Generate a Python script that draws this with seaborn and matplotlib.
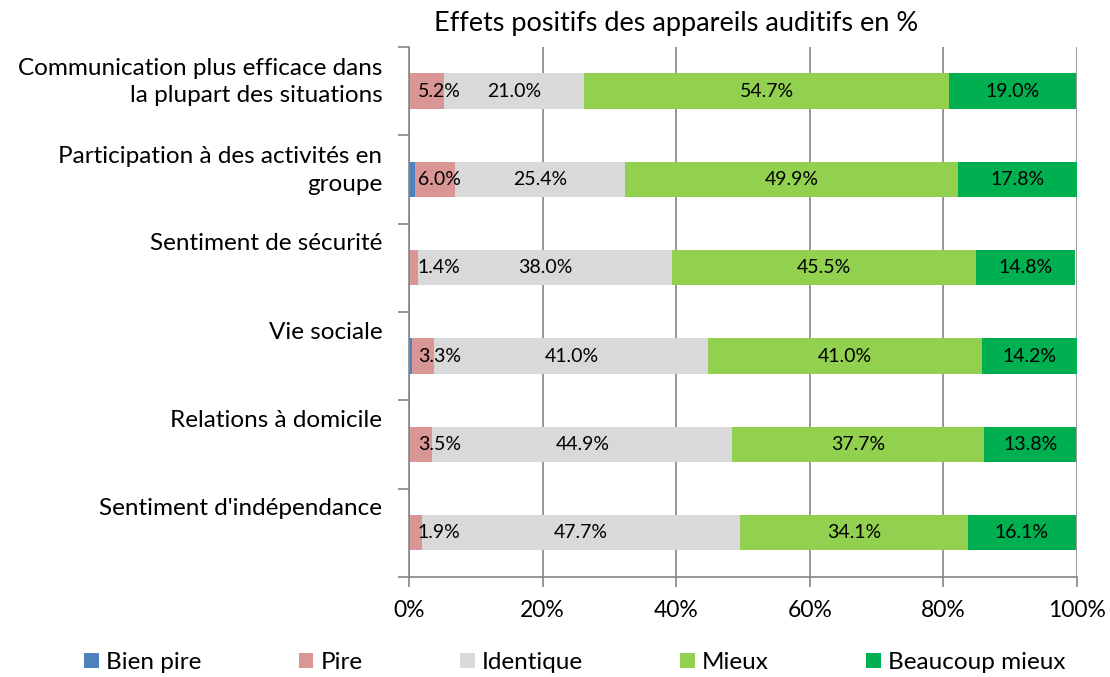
import matplotlib.pyplot as plt
import seaborn as sns
import pandas as pd
import numpy as np

categories = [
    "Communication plus efficace dans\nla plupart des situations",
    "Participation à des activités en\ngroupe",
    "Sentiment de sécurité",
    "Vie sociale",
    "Relations à domicile",
    "Sentiment d'indépendance",
]
series = ["Bien pire", "Pire", "Identique", "Mieux", "Beaucoup mieux"]
bien_pire = [0.0, 0.9, 0.0, 0.5, 0.0, 0.0]
pire = [5.2, 6.0, 1.4, 3.3, 3.5, 1.9]
identique = [21.0, 25.4, 38.0, 41.0, 44.9, 47.7]
mieux = [54.7, 49.9, 45.5, 41.0, 37.7, 34.1]
beaucoup_mieux = [19.0, 17.8, 14.8, 14.2, 13.8, 16.1]
colors = ["#4F81BD", "#D99694", "#D9D9D9", "#92D050", "#00B050"]
xticks = [0, 20, 40, 60, 80, 100]

sns.set_style("white")
plt.rcParams["font.family"] = ["Lato", "DejaVu Sans"]
plt.rcParams["text.color"] = "black"
plt.rcParams["xtick.color"] = "black"

df = pd.DataFrame({"cat": categories, "Bien pire": bien_pire, "Pire": pire,
                   "Identique": identique, "Mieux": mieux,
                   "Beaucoup mieux": beaucoup_mieux})
cum = df[series].cumsum(axis=1)
left = cum - df[series]

fig = plt.figure(figsize=(11.1, 6.77), dpi=100)
ax = fig.add_axes([0.3685, 0.148, 0.6018, 0.7826])

# stacked bars: draw cumulative totals from the back
for s, c in reversed(list(zip(series, colors))):
    sns.barplot(x=cum[s], y=df["cat"], color=c, orient="h", width=0.4,
                saturation=1, ax=ax, label=s, linewidth=0)

gc = "#868686"
ax.set_xlim(0, 100)
ax.set_ylim(5.5, -0.5)
ax.set_xticks(xticks)
ax.set_xticklabels([f"{t}%" for t in xticks], fontsize=16.5)
ax.xaxis.grid(True, color=gc, linewidth=1.2)
ax.set_axisbelow(True)
ax.set_xlabel("")
ax.set_ylabel("")
for sp in ["top", "right"]:
    ax.spines[sp].set_visible(False)
for sp in ["left", "bottom"]:
    ax.spines[sp].set_color(gc)
    ax.spines[sp].set_linewidth(1.2)
ax.tick_params(axis="x", bottom=True, length=7, width=1.2, color=gc,
               labelcolor="black", pad=10)
ax.set_yticks(np.arange(-0.5, 6, 1), minor=True)
ax.set_yticks([])
ax.tick_params(axis="y", which="minor", left=True, length=8, width=1.2, color=gc)

# category labels
for i, cat in enumerate(categories):
    y = i - 0.10 if "\n" in cat else i - 0.27
    ax.text(-0.04, y, cat, transform=ax.get_yaxis_transform(), ha="right",
            va="center", fontsize=17.5, linespacing=1.37, color="black")

# value labels
for i in range(len(categories)):
    ax.text(1.3, i, f"{pire[i]:.1f}%", ha="left", va="center", fontsize=14)
    for s in ["Identique", "Mieux", "Beaucoup mieux"]:
        xc = left.loc[i, s] + df.loc[i, s] / 2
        ax.text(xc, i, f"{df.loc[i, s]:.1f}%", ha="center", va="center", fontsize=14)

fig.text(0.609, 0.965, "Effets positifs des appareils auditifs en %", ha="center",
         va="center", fontsize=19.5)

handles, labels = ax.get_legend_handles_labels()
if ax.get_legend():
    ax.get_legend().remove()
order = [labels.index(s) for s in series]
fig.legend([handles[k] for k in order], [labels[k] for k in order], ncol=5,
           loc="center", bbox_to_anchor=(0.518, 0.021), frameon=False, fontsize=17.5,
           handlelength=0.6, handleheight=0.6, handletextpad=0.3, columnspacing=4.0)

fig.savefig("out.png", dpi=100)
